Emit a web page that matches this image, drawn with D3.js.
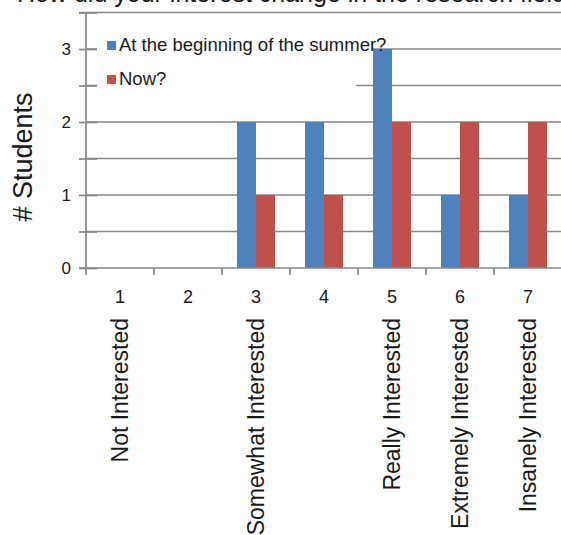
<!DOCTYPE html>
<html><head><meta charset="utf-8">
<script src="https://cdn.jsdelivr.net/npm/d3@7"></script>
<style>body{margin:0;background:#fff}svg{display:block;font-family:"Liberation Sans",Arial,sans-serif}</style>
</head><body><svg id="c" width="561" height="535"></svg>
<script>
const categories = ["1","2","3","4","5","6","7"];
const categoryNames = ["Not Interested","","Somewhat Interested","","Really Interested","Extremely Interested","Insanely Interested"];
const seriesNames = ["At the beginning of the summer?","Now?"];
const beginning = [0,0,2,2,3,1,1];
const now = [0,0,1,1,2,2,2];
const yTicks = [0,1,2,3];
const colors = ["#4F81BD","#C0504D"];
const title = "How did your interest change in the research field?";

const svg = d3.select("#c");
const x0 = 86, x1 = 562, yTop = 12.5, yBot = 268;
const x = d3.scaleBand().domain(categories).range([x0, x1]).padding(0);
const xs = d3.scaleBand().domain([0,1]).range([0, x.bandwidth()]).paddingInner(0).paddingOuter(0.79);
const y = d3.scaleLinear().domain([0,3.5]).range([yBot, yTop]);
const grid = "#878787";

// title (cut off at top, as in the reference)
svg.append("text").attr("x", 17).attr("y", 1.5).attr("font-size", 25).attr("fill","#1a1a1a").text(title);

// gridlines
const gridVals = d3.range(0.5, 3.51, 0.5);
svg.append("g").selectAll("line").data(gridVals).join("line")
  .attr("x1", x0).attr("x2", 561).attr("y1", d=>y(d)).attr("y2", d=>y(d))
  .attr("stroke", grid).attr("stroke-width", 1.7);

// bars
const series = [beginning, now];
const g = svg.append("g");
categories.forEach((c,i)=>{
  series.forEach((s,j)=>{
    if (s[i] > 0) g.append("rect")
      .attr("x", x(c)+xs(j)).attr("width", xs.bandwidth())
      .attr("y", y(s[i])).attr("height", y(0)-y(s[i]))
      .attr("fill", colors[j]);
  });
});

// legend background
svg.append("rect").attr("x",97).attr("y",25).attr("width",259).attr("height",80).attr("fill","#fff");
svg.append("rect").attr("x",356).attr("y",36).attr("width",16).attr("height",16).attr("fill","#fff");
const leg = svg.append("g");
seriesNames.forEach((n,j)=>{
  const ly = 46 + j*34;
  leg.append("rect").attr("x",107).attr("y",ly-5).attr("width",9).attr("height",9).attr("fill",colors[j]);
  leg.append("text").attr("x",119).attr("y",ly+4.5).attr("font-size",18.5).attr("fill","#1a1a1a").text(n);
});

// y axis
const yAxis = d3.axisLeft(y).tickValues(d3.range(0,3.51,0.5)).tickSize(7).tickFormat(d=> yTicks.includes(d) ? d : "").tickPadding(8);
const ya = svg.append("g").attr("transform",`translate(${x0},0)`).call(yAxis);
ya.select(".domain").attr("stroke", grid).attr("stroke-width",1.7).attr("d",`M-7,${yTop}H0V${yBot}H-7`);
ya.selectAll(".tick line").attr("stroke", grid).attr("stroke-width",1.7).attr("x1",11);
ya.selectAll(".tick text").attr("font-size",17).attr("fill","#1a1a1a").attr("font-family","Liberation Sans, Arial, sans-serif");

// x axis
const xa = svg.append("g").attr("transform",`translate(0,${yBot})`);
xa.append("line").attr("x1",x0).attr("x2",561).attr("stroke",grid).attr("stroke-width",1.7);
xa.selectAll("line.t").data(categories.concat(["end"])).join("line").attr("class","t")
  .attr("x1",(d,i)=> x0 + i*x.step()).attr("x2",(d,i)=> x0 + i*x.step())
  .attr("y1",0).attr("y2",7).attr("stroke",grid).attr("stroke-width",1.7);
xa.selectAll("text.n").data(categories).join("text").attr("class","n")
  .attr("x", d=>x(d)+x.bandwidth()/2).attr("y", 35).attr("text-anchor","middle")
  .attr("font-size",18).attr("fill","#1a1a1a").text(d=>d);
svg.selectAll("text.cat").data(categoryNames).join("text").attr("class","cat")
  .attr("transform",(d,i)=>`translate(${x(categories[i])+x.bandwidth()/2+8},318) rotate(-90)`)
  .attr("text-anchor","end").attr("font-size",23).attr("fill","#1a1a1a").text(d=>d);

// y title
svg.append("text").attr("transform","translate(32,157) rotate(-90)").attr("text-anchor","middle")
  .attr("font-size",27).attr("fill","#1a1a1a").text("# Students");
</script></body></html>
